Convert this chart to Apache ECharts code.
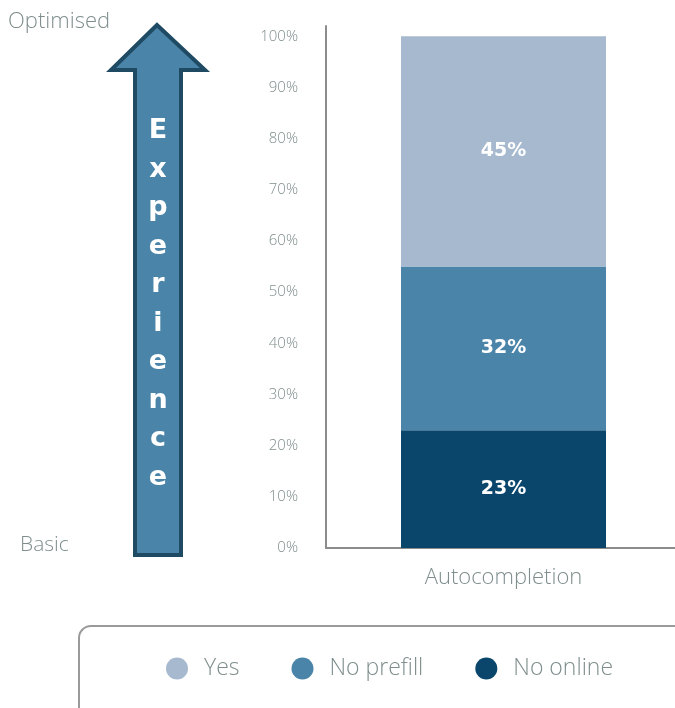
<!DOCTYPE html>
<html>
<head>
<meta charset="utf-8">
<script src="https://cdn.jsdelivr.net/npm/echarts@6/dist/echarts.min.js"></script>
<style>
  html, body { margin: 0; padding: 0; background: #fff; }
  #chart { width: 675px; height: 708px; }
</style>
</head>
<body>
<div id="chart"></div>
<script>
// Share of forms by autocompletion support
const categories = ['Autocompletion'];
const seriesNames = ['No online', 'No prefill', 'Yes'];
const noOnline = [23];
const noPrefill = [32];
const yes = [45];
const legendOrder = ['Yes', 'No prefill', 'No online'];
const colors = { 'No online': '#0a466b', 'No prefill': '#4a84a8', 'Yes': '#a6b9ce' };
const arrowWord = 'Experience';
const scaleTop = 'Optimised';
const scaleBottom = 'Basic';

const FONT = '"Open Sans", sans-serif';
const LIGHT = 300;
const GREY = '#7f8e8d';

const chart = echarts.init(document.getElementById('chart'));

const values = { 'No online': noOnline, 'No prefill': noPrefill, 'Yes': yes };

const series = seriesNames.map(name => ({
  name: name,
  type: 'bar',
  stack: 'total',
  barWidth: 205,
  data: values[name],
  itemStyle: { color: colors[name] },
  label: {
    show: true,
    position: 'inside',
    formatter: p => p.value + '%',
    color: '#fff',
    fontFamily: '"DejaVu Sans", sans-serif',
    fontWeight: 'bold',
    fontSize: 19
  }
}));

chart.setOption({
  animation: false,
  grid: { left: 326, width: 355, top: 26, bottom: 160, outerBoundsMode: 'none', containLabel: false },
  xAxis: {
    type: 'category',
    data: categories,
    axisLine: { lineStyle: { color: '#8c8c8c', width: 2 } },
    axisTick: { show: false },
    axisLabel: { color: GREY, fontFamily: FONT, fontWeight: LIGHT, fontSize: 22, margin: 19 }
  },
  yAxis: {
    type: 'value',
    min: 0,
    max: 102,
    interval: 10,
    axisLine: { show: true, lineStyle: { color: '#8c8c8c', width: 2 } },
    axisTick: { show: false },
    splitLine: { show: false },
    axisLabel: {
      color: GREY, fontFamily: FONT, fontWeight: LIGHT, fontSize: 15, margin: 28,
      showMaxLabel: false,
      formatter: v => (v > 100 ? '' : v + '%')
    }
  },
  legend: {
    data: legendOrder,
    left: 161,
    top: 652,
    icon: 'circle',
    itemWidth: 22,
    itemHeight: 22,
    itemGap: 52,
    textStyle: { color: GREY, fontFamily: FONT, fontWeight: LIGHT, fontSize: 23, padding: [0, 0, 0, 11] }
  },
  series: series,
  graphic: [
    {
      type: 'rect',
      shape: { x: 79, y: 626, width: 700, height: 140, r: 12 },
      style: { fill: 'none', stroke: '#9a9a9a', lineWidth: 2 },
      z: -1
    },
    {
      type: 'polygon',
      shape: {
        points: [[157, 25], [111, 70], [135, 70], [135, 555], [181, 555], [181, 70], [205, 70]]
      },
      style: { fill: '#4a84a8', stroke: '#1f4a63', lineWidth: 4, lineJoin: 'miter' }
    },
    {
      type: 'text',
      x: 158,
      y: 112,
      style: {
        text: arrowWord.split('').join('\n'),
        fill: '#fff',
        fontFamily: '"DejaVu Sans", sans-serif',
        fontWeight: 'bold',
        fontSize: 27,
        lineHeight: 38.5,
        align: 'center',
        verticalAlign: 'top'
      }
    },
    {
      type: 'text',
      x: 8,
      y: 22,
      style: { text: scaleTop, fill: GREY, fontFamily: FONT, fontWeight: LIGHT, fontSize: 22, verticalAlign: 'middle' }
    },
    {
      type: 'text',
      x: 20,
      y: 545,
      style: { text: scaleBottom, fill: GREY, fontFamily: FONT, fontWeight: LIGHT, fontSize: 21, verticalAlign: 'middle' }
    }
  ]
});
</script>
</body>
</html>
